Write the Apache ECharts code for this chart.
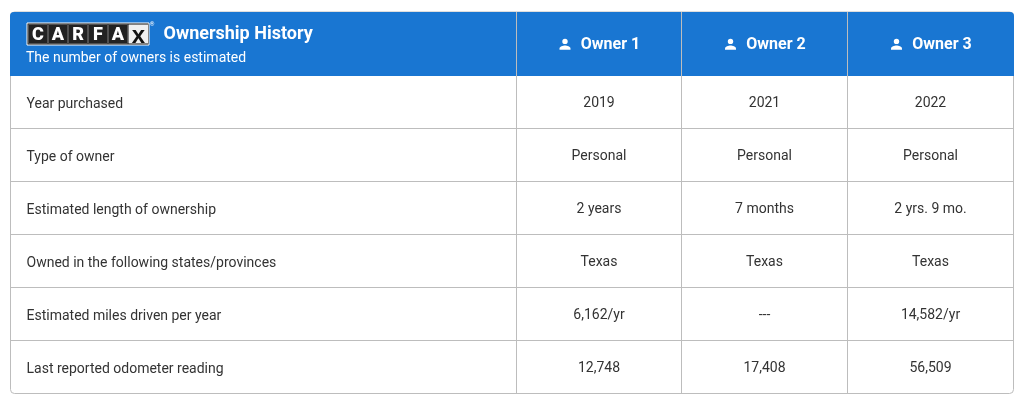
<!DOCTYPE html>
<html><head><meta charset="utf-8">
<style>html,body{margin:0;padding:0;background:#fff}#c{width:1020px;height:405px}</style>
<script src="https://cdn.jsdelivr.net/npm/echarts@6/dist/echarts.min.js"></script>
</head><body><div id="c"></div>
<script>
const title = "Ownership History";
const subtitle = "The number of owners is estimated";
const owners = ["Owner 1", "Owner 2", "Owner 3"];
const logoLetters = ["C", "A", "R", "F", "A"];
const rowLabels = ["Year purchased", "Type of owner", "Estimated length of ownership",
  "Owned in the following states/provinces", "Estimated miles driven per year", "Last reported odometer reading"];
const owner1 = ["2019", "Personal", "2 years", "Texas", "6,162/yr", "12,748"];
const owner2 = ["2021", "Personal", "7 months", "Texas", "---", "17,408"];
const owner3 = ["2022", "Personal", "2 yrs. 9 mo.", "Texas", "14,582/yr", "56,509"];

const colEdges = [10.5, 516.5, 681.5, 847.5, 1013.5];
const rowEdges = [12, 76, 128.5, 181.5, 234.5, 287.5, 340.5, 393.5];
const F = "Roboto, sans-serif", LINE = "#bdbdbd", BLUE = "#1976d2", INK = "#333333";
const cols = [owner1, owner2, owner3];

const cells = [];
rowLabels.forEach((t, r) => {
  cells.push({ value: [0, r + 1, t], kind: "label" });
  cols.forEach((c, i) => cells.push({ value: [i + 1, r + 1, c[r]], kind: "value" }));
});
owners.forEach((t, i) => cells.push({ value: [i + 1, 0, t], kind: "owner" }));
cells.push({ value: [0, 0, title], kind: "head" });
cells.unshift({ value: [0, 0, ""], kind: "frame" });

function renderItem(params, api) {
  const d = cells[params.dataIndex];
  const c = d.value[0], r = d.value[1], t = d.value[2];
  const p0 = api.coord([colEdges[c], rowEdges[r]]);
  const p1 = api.coord([colEdges[c + 1], rowEdges[r + 1]]);
  const cx = (p0[0] + p1[0]) / 2, cy = (p0[1] + p1[1]) / 2;
  const txt = (text, x, y, font, fill, align) => ({
    type: "text", style: { text, x, y, font, fill, textAlign: align || "center", textVerticalAlign: "middle" }
  });
  if (d.kind === "frame") {
    const L = api.coord([colEdges[0], 0])[0], R = api.coord([colEdges[4], 0])[0];
    const T = api.coord([0, rowEdges[0]])[1], H = api.coord([0, rowEdges[1]])[1], B = api.coord([0, rowEdges[7]])[1];
    const kids = [
      { type: "rect", shape: { x: L, y: T, width: R - L, height: B - T, r: 4 }, style: { fill: "#fff", stroke: LINE, lineWidth: 1 } },
      { type: "rect", shape: { x: L - 0.5, y: T, width: R - L + 1, height: H - T, r: [4, 4, 0, 0] }, style: { fill: BLUE } }
    ];
    for (let i = 2; i < 7; i++) {
      const y = api.coord([0, rowEdges[i]])[1];
      kids.push({ type: "line", shape: { x1: L, y1: y, x2: R, y2: y }, style: { stroke: LINE, lineWidth: 1 } });
    }
    for (let i = 1; i < 4; i++) {
      const x = api.coord([colEdges[i], 0])[0];
      kids.push({ type: "line", shape: { x1: x, y1: T, x2: x, y2: B }, style: { stroke: LINE, lineWidth: 1 } });
    }
    return { type: "group", children: kids };
  }
  if (d.kind === "label") return txt(t, p0[0] + 16, cy + 2.5, "14px " + F, INK, "left");
  if (d.kind === "value") return txt(t, cx, cy + 1.5, "14px " + F, INK);
  if (d.kind === "owner") {
    const ix = cx - 34, iy = cy;
    return { type: "group", children: [
      { type: "circle", shape: { cx: ix, cy: iy - 2.6, r: 2.7 }, style: { fill: "#fff" } },
      { type: "path", shape: { pathData: "M-5.5 6 L-5.5 4.6 C-5.5 2.6 -2 1.6 0 1.6 C2 1.6 5.5 2.6 5.5 4.6 L5.5 6 Z", x: ix - 5.5, y: iy + 1.4, width: 11, height: 4.4 }, style: { fill: "#fff" } },
      txt(t, cx + 11.5, iy + 0.5, "bold 16px " + F, "#fff")
    ]};
  }
  // header: logo, title, subtitle
  const lx = p0[0] + 16.5, ly = p0[1] + 11;
  const kids = [{ type: "rect", shape: { x: lx, y: ly, width: 122, height: 22 }, style: { fill: "#111", stroke: "#fff", lineWidth: 1 } }];
  logoLetters.forEach((ch, i) => {
    kids.push({ type: "rect", shape: { x: lx + 1.5 + i * 20, y: ly + 1.5, width: 19, height: 19 }, style: { fill: "#222", stroke: "#888", lineWidth: 0.5 } });
    kids.push(txt(ch, lx + 11 + i * 20, ly + 12, "900 18px " + F, "#fff"));
  });
  kids.push({ type: "rect", shape: { x: lx + 101.5, y: ly + 1.5, width: 19.5, height: 19 }, style: { fill: "#f0f0f0" } });
  kids.push(txt("x", lx + 111.5, ly + 13, "bold 24px 'Liberation Sans', sans-serif", "#111"));
  kids.push(txt("®", lx + 125, ly + 1, "6px " + F, "#fff"));
  kids.push(txt(t, p0[0] + 153, p0[1] + 22, "bold 18px " + F, "#fff", "left"));
  kids.push(txt(subtitle, p0[0] + 15.5, p0[1] + 46, "14px " + F, "#fff", "left"));
  return { type: "group", children: kids };
}

const chart = echarts.init(document.getElementById("c"), null, { renderer: "canvas" });
chart.setOption({
  animation: false,
  backgroundColor: "#fff",
  grid: { left: 0, right: 0, top: 0, bottom: 0 },
  xAxis: { type: "value", min: 0, max: 1020, show: false },
  yAxis: { type: "value", min: 0, max: 405, inverse: true, show: false },
  tooltip: { show: false },
  series: [{ type: "custom", coordinateSystem: "cartesian2d", clip: false, silent: true,
    encode: { x: 0, y: 1 }, data: cells, renderItem }]
});
</script></body></html>
